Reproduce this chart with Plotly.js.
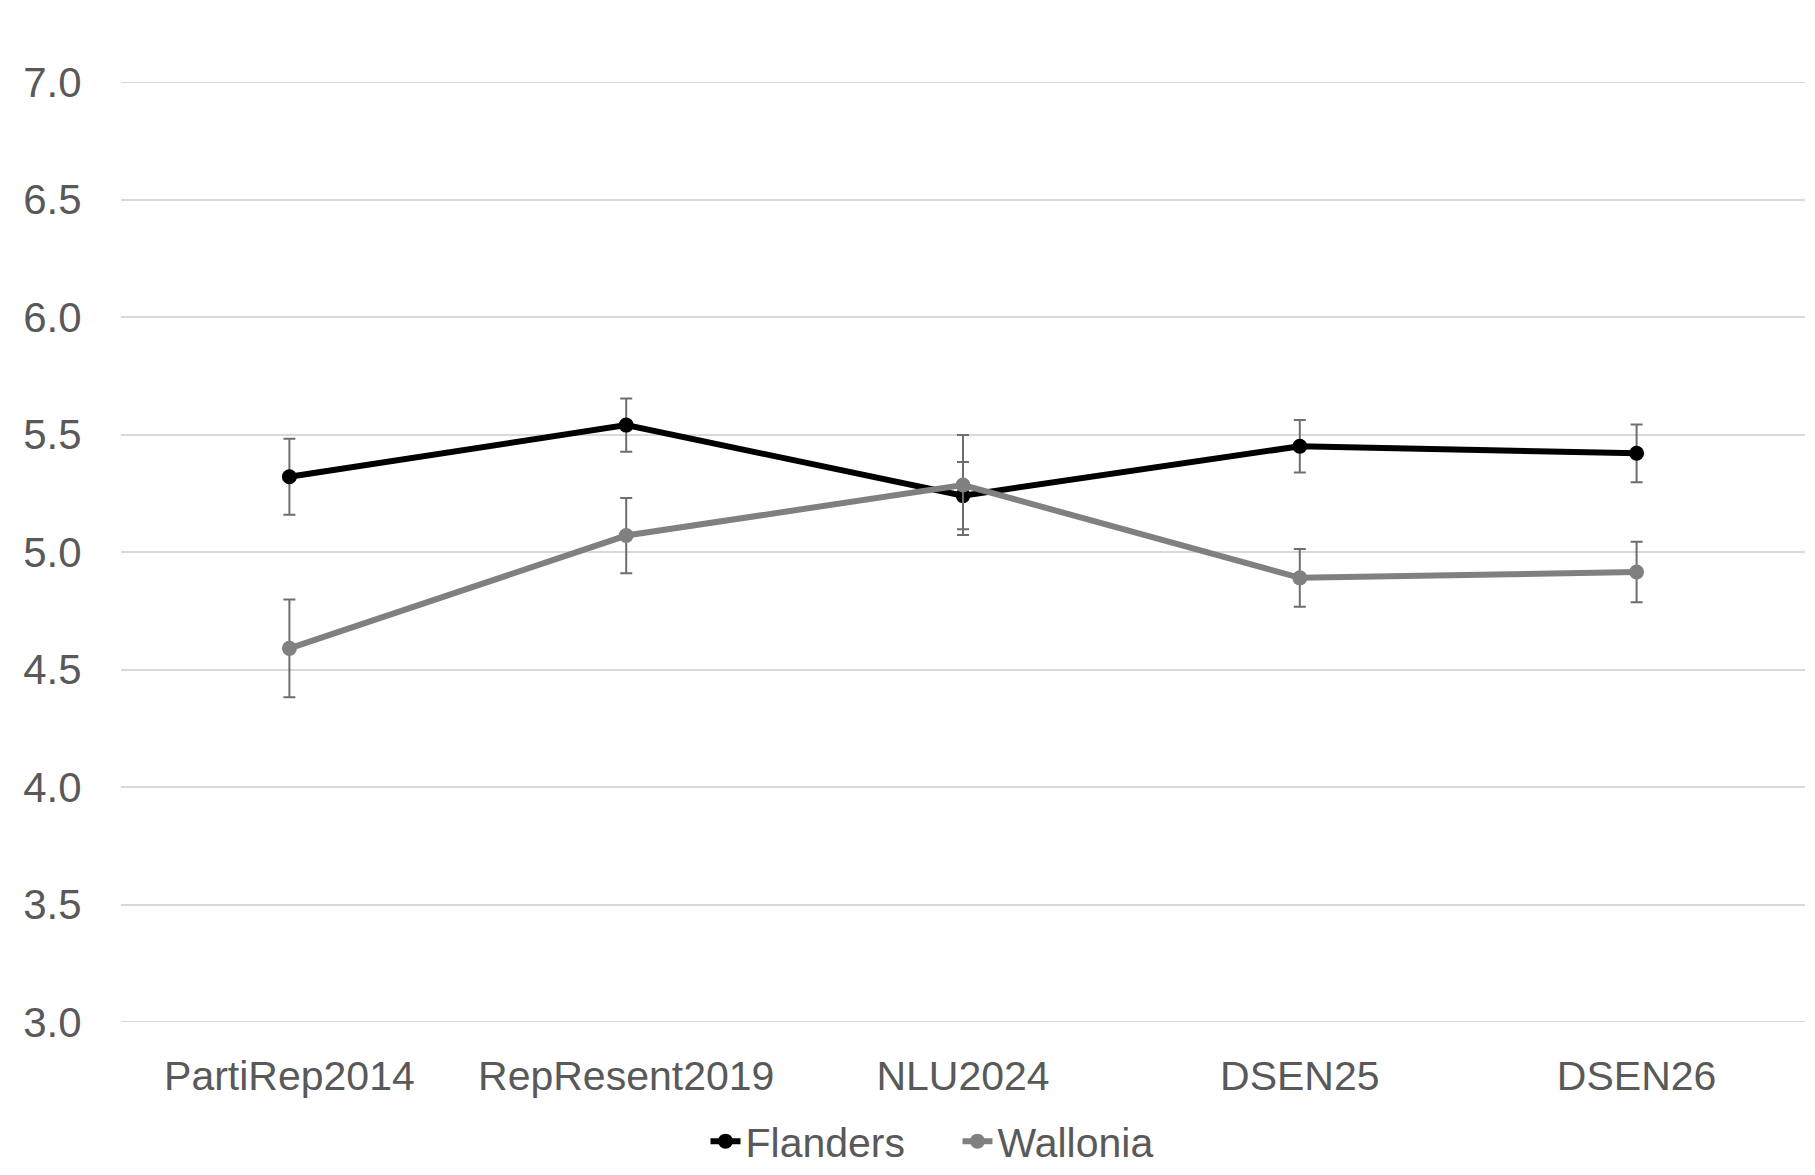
<!DOCTYPE html>
<html>
<head>
<meta charset="utf-8">
<script src="https://cdn.plot.ly/plotly-3.0.1.min.js"></script>
<style>html,body{margin:0;padding:0;background:#fff;}#chart{width:1815px;height:1175px;}</style>
</head>
<body>
<div id="chart"></div>
<script>
const categories = ["PartiRep2014", "RepResent2019", "NLU2024", "DSEN25", "DSEN26"];
const flanders = [5.32, 5.54, 5.24, 5.45, 5.42];
const flandersErr = [0.162, 0.113, 0.143, 0.112, 0.123];
const wallonia = [4.59, 5.07, 5.285, 4.89, 4.915];
const walloniaErr = [0.208, 0.16, 0.213, 0.123, 0.129];
const yTicks = [3.0, 3.5, 4.0, 4.5, 5.0, 5.5, 6.0, 6.5, 7.0];
const yRange = [3.0, 7.0];

const fontFamily = "Liberation Sans, Arial, sans-serif";
const textColor = "#595959";
const gridColor = "#d9d9d9";

const errStyle = {type: "data", visible: true, color: "#6e6e6e", thickness: 2, width: 6};

const traces = [
  {
    x: categories, y: flanders, name: "Flanders", type: "scatter", mode: "lines+markers",
    line: {color: "#000000", width: 6},
    marker: {color: "#000000", size: 15},
    error_y: Object.assign({array: flandersErr}, errStyle)
  },
  {
    x: categories, y: wallonia, name: "Wallonia", type: "scatter", mode: "lines+markers",
    line: {color: "#808080", width: 6},
    marker: {color: "#808080", size: 15},
    error_y: Object.assign({array: walloniaErr}, errStyle)
  }
];

// edge gridlines (Plotly skips grid lines lying on the plot-area border)
const edgeLines = yRange.map(v => ({
  type: "line", xref: "paper", yref: "y", x0: 0, x1: 1, y0: v, y1: v,
  line: {color: gridColor, width: 2}, layer: "below"
}));

const layout = {
  width: 1815, height: 1175,
  paper_bgcolor: "#ffffff", plot_bgcolor: "#ffffff",
  margin: {l: 121, r: 10, t: 82, b: 153, autoexpand: false},
  showlegend: true,
  font: {family: fontFamily, color: textColor, size: 41},
  shapes: edgeLines,
  xaxis: {
    type: "category", range: [-0.5, 4.5],
    showgrid: false, zeroline: false, showline: false,
    ticks: "outside", ticklen: 18, tickcolor: "rgba(0,0,0,0)",
    tickfont: {family: fontFamily, size: 41, color: textColor}
  },
  yaxis: {
    range: yRange, tickvals: yTicks, ticktext: yTicks.map(v => v.toFixed(1)),
    showgrid: true, gridcolor: gridColor, gridwidth: 2,
    zeroline: false, showline: false,
    ticks: "outside", ticklen: 30, tickcolor: "rgba(0,0,0,0)",
    tickfont: {family: fontFamily, size: 42, color: textColor}
  },
  legend: {
    orientation: "h", xref: "container", yref: "container",
    x: 0.3887, xanchor: "left", y: 0.0, yanchor: "bottom",
    font: {family: fontFamily, size: 41, color: textColor},
    entrywidth: 207, entrywidthmode: "pixels",
    itemwidth: 30, tracegroupgap: 0, bgcolor: "rgba(0,0,0,0)"
  }
};

Plotly.newPlot("chart", traces, layout, {displayModeBar: false, staticPlot: true});
</script>
</body>
</html>
